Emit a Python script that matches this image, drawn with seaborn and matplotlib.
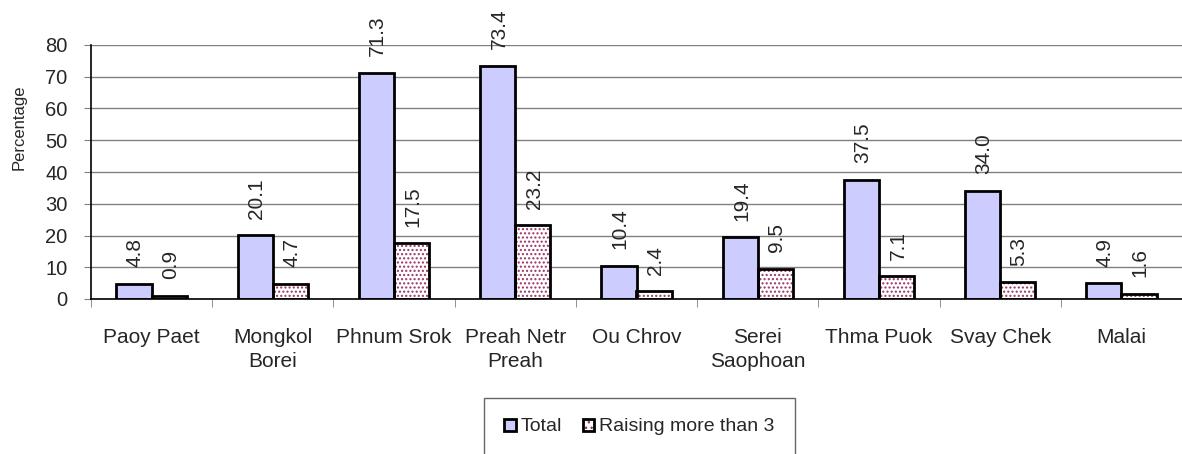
import numpy as np
import pandas as pd
import matplotlib
matplotlib.use("Agg")
import matplotlib.pyplot as plt
from matplotlib.patches import Rectangle, Patch
from matplotlib.legend_handler import HandlerTuple
import seaborn as sns

# donnees
districts = ["Paoy Paet", "Mongkol\nBorei", "Phnum Srok", "Preah Netr\nPreah", "Ou Chrov",
             "Serei\nSaophoan", "Thma Puok", "Svay Chek", "Malai"]
total = [4.8, 20.1, 71.3, 73.4, 10.4, 19.4, 37.5, 34.0, 4.9]
raising = [0.9, 4.7, 17.5, 23.2, 2.4, 9.5, 7.1, 5.3, 1.6]
series = ["Total", "Raising more than 3"]
y_ticks = [0, 10, 20, 30, 40, 50, 60, 70, 80]

df = pd.DataFrame({
    "district": districts * 2,
    "value": total + raising,
    "series": [series[0]] * len(districts) + [series[1]] * len(districts),
})

sns.set_style("white")
plt.rcParams["font.family"] = ["Liberation Sans", "DejaVu Sans"]

fig = plt.figure(figsize=(11.82, 4.54), dpi=100)
ax = fig.add_axes([91 / 1182, 1 - 299 / 454, 1 - 91 / 1182, (299 - 45) / 454])

blue = "#CCCCFF"
dot = "#993366"

sns.barplot(data=df, x="district", y="value", hue="series", order=districts,
            hue_order=series, width=0.58, palette=[blue, "white"], legend=False,
            ax=ax, saturation=1)

# habillage des barres: motif + contour noir
for i, cont in enumerate(ax.containers):
    for bar in cont:
        x, y = bar.get_xy()
        w, h = bar.get_width(), bar.get_height()
        if i == 1:
            bar.set_hatch("....")
            bar.set_edgecolor(dot)
            bar.set_linewidth(0)
        else:
            bar.set_edgecolor("none")
        ax.add_patch(Rectangle((x, y), w, h, fill=False, edgecolor="black",
                               linewidth=2, zorder=3))
    vals = total if i == 0 else raising
    for bar, v in zip(cont, vals):
        ax.annotate(f"{v:.1f}", (bar.get_x() + bar.get_width() / 2, bar.get_height()),
                    xytext=(1, 12), textcoords="offset points", rotation=90,
                    ha="center", va="bottom", fontsize=15)

ax.set_ylim(0, 80)
ax.set_xlim(-0.5, len(districts) - 0.5)
ax.set_yticks(y_ticks)
ax.set_yticklabels([str(t) for t in y_ticks], fontsize=14.5)
ax.yaxis.grid(True, color="#808080", linewidth=1)
ax.set_axisbelow(True)
ax.tick_params(axis="y", left=True, length=5, color="#808080", pad=12)
ax.set_xticks(range(len(districts)))
ax.set_xticklabels(districts, fontsize=15, linespacing=1.3)
ax.set_xticks(np.arange(-0.5, len(districts), 1), minor=True)
ax.tick_params(axis="x", which="major", length=0, pad=21)
ax.tick_params(axis="x", which="minor", bottom=True, length=6, color="#808080")
ax.set_xlabel("")
ax.set_ylabel("Percentage", fontsize=12)
ax.yaxis.set_label_coords(-0.0587, 0.677)

for s in ["top", "right"]:
    ax.spines[s].set_visible(False)
for s in ["left", "bottom"]:
    ax.spines[s].set_color("black")
    ax.spines[s].set_linewidth(1.2)

# legende: motif + contour superposes
h_total = Patch(facecolor=blue, edgecolor="black", linewidth=2)
h_fill = Patch(facecolor="white", edgecolor=dot, linewidth=0, hatch="...")
h_edge = Patch(facecolor="none", edgecolor="black", linewidth=2)
leg = fig.legend([h_total, (h_fill, h_edge)], series, loc="upper left",
                 handler_map={tuple: HandlerTuple(ndivide=1, pad=0)},
                 bbox_to_anchor=(484 / 1182, 1 - 398 / 454), ncol=2, fontsize=14,
                 frameon=True, fancybox=False, edgecolor="#404040",
                 handlelength=0.57, handleheight=0.57, handletextpad=0.25,
                 columnspacing=1.1, borderpad=1.05, borderaxespad=0)
leg.get_frame().set_linewidth(1)

fig.savefig("out.png", dpi=100)
